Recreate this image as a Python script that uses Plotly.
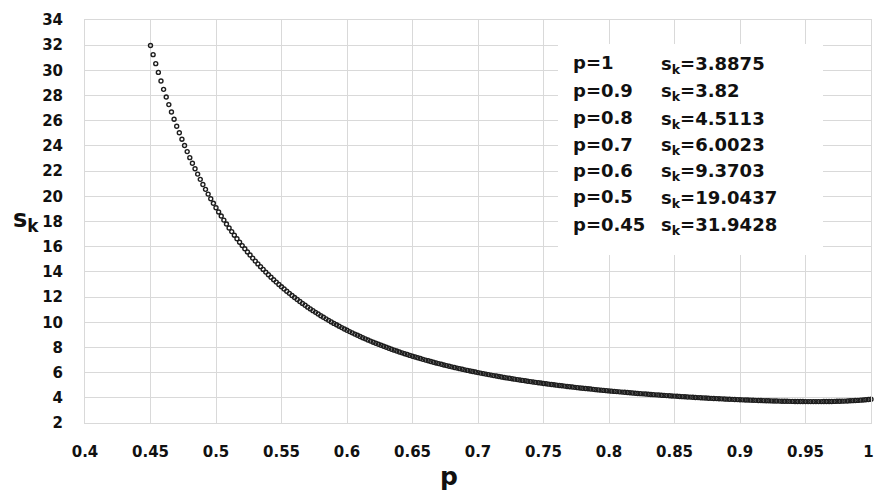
import plotly.graph_objects as go

# ---- data -------------------------------------------------------------
p_start = 0.45
p_step = 0.002
s_values = [
    31.976, 31.247, 30.535, 29.839, 29.159, 28.493, 27.881, 27.282, 26.696, 26.123,
    25.563, 25.044, 24.536, 24.038, 23.550, 23.071, 22.627, 22.192, 21.765, 21.346,
    20.935, 20.552, 20.176, 19.807, 19.445, 19.090, 18.758, 18.432, 18.111, 17.796,
    17.487, 17.197, 16.912, 16.632, 16.357, 16.086, 15.832, 15.582, 15.336, 15.094,
    14.856, 14.633, 14.413, 14.196, 13.983, 13.772, 13.574, 13.379, 13.187, 12.998,
    12.813, 12.638, 12.465, 12.294, 12.126, 11.960, 11.804, 11.650, 11.498, 11.348,
    11.199, 11.060, 10.922, 10.786, 10.652, 10.519, 10.394, 10.271, 10.149, 10.028,
    9.909, 9.797, 9.686, 9.576, 9.467, 9.360, 9.259, 9.159, 9.060, 8.962,
    8.864, 8.773, 8.682, 8.592, 8.503, 8.416, 8.333, 8.251, 8.170, 8.090,
    8.009, 7.934, 7.859, 7.785, 7.712, 7.640, 7.571, 7.503, 7.436, 7.369,
    7.303, 7.240, 7.178, 7.117, 7.056, 6.996, 6.939, 6.882, 6.826, 6.770,
    6.715, 6.663, 6.611, 6.559, 6.508, 6.457, 6.409, 6.361, 6.314, 6.267,
    6.221, 6.177, 6.133, 6.089, 6.046, 6.003, 5.962, 5.922, 5.882, 5.842,
    5.802, 5.765, 5.728, 5.691, 5.654, 5.617, 5.582, 5.548, 5.514, 5.480,
    5.446, 5.414, 5.382, 5.350, 5.319, 5.288, 5.258, 5.229, 5.200, 5.171,
    5.141, 5.113, 5.086, 5.059, 5.032, 5.005, 4.979, 4.954, 4.929, 4.904,
    4.878, 4.854, 4.830, 4.806, 4.783, 4.760, 4.738, 4.716, 4.694, 4.672,
    4.650, 4.630, 4.610, 4.590, 4.570, 4.549, 4.530, 4.511, 4.492, 4.473,
    4.454, 4.436, 4.418, 4.400, 4.382, 4.365, 4.348, 4.331, 4.314, 4.298,
    4.283, 4.267, 4.252, 4.237, 4.222, 4.206, 4.192, 4.177, 4.163, 4.148,
    4.134, 4.121, 4.107, 4.094, 4.080, 4.067, 4.055, 4.042, 4.030, 4.017,
    4.005, 3.994, 3.982, 3.971, 3.959, 3.948, 3.937, 3.927, 3.916, 3.906,
    3.895, 3.885, 3.876, 3.866, 3.857, 3.847, 3.839, 3.830, 3.822, 3.813,
    3.805, 3.798, 3.790, 3.783, 3.776, 3.768, 3.762, 3.756, 3.750, 3.744,
    3.738, 3.733, 3.729, 3.724, 3.720, 3.715, 3.712, 3.709, 3.707, 3.704,
    3.701, 3.700, 3.700, 3.699, 3.699, 3.698, 3.700, 3.703, 3.705, 3.707,
    3.710, 3.716, 3.722, 3.728, 3.734, 3.740, 3.751, 3.762, 3.774, 3.785,
    3.796, 3.814, 3.832, 3.850, 3.869, 3.887,
]

table_p = ["1", "0.9", "0.8", "0.7", "0.6", "0.5", "0.45"]
table_s = ["3.8875", "3.82", "4.5113", "6.0023", "9.3703", "19.0437", "31.9428"]

x_tickvals = [0.4, 0.45, 0.5, 0.55, 0.6, 0.65, 0.7, 0.75, 0.8, 0.85, 0.9, 0.95, 1.0]
x_ticktext = ["0.4", "0.45", "0.5", "0.55", "0.6", "0.65", "0.7", "0.75", "0.8",
              "0.85", "0.9", "0.95", "1\u00a0"]
y_tickvals = [2, 4, 6, 8, 10, 12, 14, 16, 18, 20, 22, 24, 26, 28, 30, 32, 34]

x_range = [0.4, 1.0]
y_range = [2, 34]

# ---- layout helpers (pixel -> paper) ----------------------------------
W, H = 874, 492
ML, MR, MT, MB = 85, 3, 20, 69
PW, PH = W - ML - MR, H - MT - MB


def px(xp):
    return (xp - ML) / PW


def py(yp):
    return (H - MB - yp) / PH


FONT = "DejaVu Sans"
INK = "#111111"
GRID = "#d9d9d9"

fig = go.Figure()
fig.add_trace(go.Scatter(
    x0=p_start, dx=p_step, y=s_values,
    mode="markers",
    marker=dict(symbol="circle-open", size=4, color="#1e1e1e",
                line=dict(width=1.4, color="#1e1e1e")),
    showlegend=False, hoverinfo="skip", cliponaxis=False,
))

axis_common = dict(
    showgrid=True, gridcolor=GRID, gridwidth=1,
    showline=True, linecolor=GRID, linewidth=1, mirror=True,
    zeroline=False, ticks="", ticklabeloverflow="allow", automargin=False,
    tickfont=dict(family=FONT, size=15, color=INK, weight="bold"),
)

fig.update_layout(
    width=W, height=H,
    margin=dict(l=ML, r=MR, t=MT, b=MB, autoexpand=False),
    paper_bgcolor="white", plot_bgcolor="white",
    xaxis=dict(range=x_range, tickmode="array", tickvals=x_tickvals,
               ticktext=x_ticktext, ticklabelstandoff=15, **axis_common),
    yaxis=dict(range=y_range, tickmode="array", tickvals=y_tickvals,
               ticklabelstandoff=18, **axis_common),
    showlegend=False,
)

# white box behind the results table
fig.add_shape(type="rect", xref="paper", yref="paper",
              x0=px(558), x1=px(823), y0=py(255), y1=py(44),
              fillcolor="white", line=dict(width=0), layer="above")

row_y = [62.5, 90.5, 118, 144, 170.5, 196.5, 224]
for yy, pv, sv in zip(row_y, table_p, table_s):
    fig.add_annotation(xref="paper", yref="paper", x=px(571), y=py(yy),
                       xanchor="left", yanchor="middle", showarrow=False,
                       text=f"p={pv}",
                       font=dict(family=FONT, size=18, color=INK, weight="bold"))
    fig.add_annotation(xref="paper", yref="paper", x=px(659), y=py(yy + 2),
                       xanchor="left", yanchor="middle", showarrow=False,
                       text=f"s<sub>k</sub>={sv}",
                       font=dict(family=FONT, size=18, color=INK, weight="bold"))

# axis titles
fig.add_annotation(xref="paper", yref="paper", x=px(26), y=py(220),
                   xanchor="center", yanchor="middle", showarrow=False,
                   text="s<sub>k</sub>",
                   font=dict(family=FONT, size=24, color=INK, weight="bold"))
fig.add_annotation(xref="paper", yref="paper", x=px(449), y=py(476),
                   xanchor="center", yanchor="middle", showarrow=False,
                   text="p",
                   font=dict(family=FONT, size=25, color=INK, weight="bold"))

fig.write_html("out.html")
